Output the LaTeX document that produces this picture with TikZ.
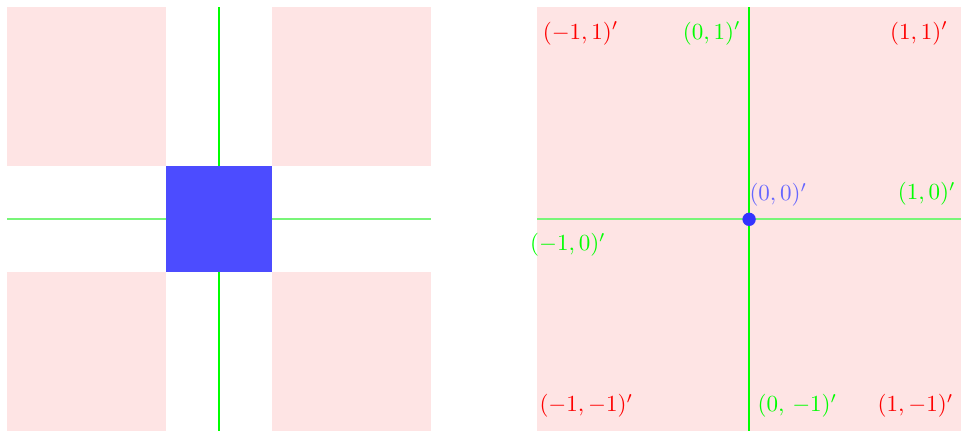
\documentclass[tikz,border=0pt]{standalone}
\definecolor{pinkbg}{RGB}{254,228,228}
\definecolor{linegreen}{RGB}{0,255,0}
\definecolor{hgreen}{RGB}{120,245,120}
\begin{document}
\begin{tikzpicture}[x=46pt,y=46pt,
  pinkfill/.style={fill=pinkbg,draw=none},
  vline/.style={draw=linegreen,line width=0.9pt},
  hline/.style={draw=hgreen,line width=0.95pt},
  redlab/.style={text=red,inner sep=0pt},
  greenlab/.style={text=linegreen,inner sep=0pt},
  bluelab/.style={text=blue!60,inner sep=0pt}]
\useasboundingbox (-2.07,-2) rectangle (7,2.07);
% left panel
\fill[pinkfill] (-2,0.5) rectangle (-0.5,2);
\fill[pinkfill] (0.5,0.5) rectangle (2,2);
\fill[pinkfill] (-2,-2) rectangle (-0.5,-0.5);
\fill[pinkfill] (0.5,-2) rectangle (2,-0.5);
\coordinate (lW) at (-2,0); \coordinate (lE) at (2,0);
\coordinate (lN) at (0,2); \coordinate (lS) at (0,-2);
\path[hline] (lW) -- (lE);
\path[vline] (lN) -- (lS);
\fill[blue!70] (-0.5,-0.5) rectangle (0.5,0.5);
% right panel
\fill[pinkfill] (3,-2) rectangle (7,2);
\coordinate (rW) at (3,0); \coordinate (rE) at (7,0);
\coordinate (rN) at (5,2); \coordinate (rS) at (5,-2);
\path[hline] (rW) -- (rE);
\path[vline] (rN) -- (rS);
\fill[blue!80] (5,0) circle (2.9pt);
\node[redlab] (a) at (3.41,1.754) {$(-1,1)'$};
\node[greenlab] (b) at (4.648,1.754) {$(0,1)'$};
\node[redlab] (c) at (6.603,1.754) {$(1,1)'$};
\node[bluelab] (d) at (5.276,0.232) {$(0,0)'$};
\node[greenlab] (e) at (6.677,0.24) {$(1,0)'$};
\node[greenlab] (f) at (3.29,-0.242) {$(-1,0)'$};
\node[redlab] (g) at (3.463,-1.759) {$(-1,-1)'$};
\node[greenlab] (h) at (5.456,-1.759) {$(0,\,-1)'$};
\node[redlab] (i) at (6.57,-1.759) {$(1,-1)'$};
\end{tikzpicture}
\end{document}
